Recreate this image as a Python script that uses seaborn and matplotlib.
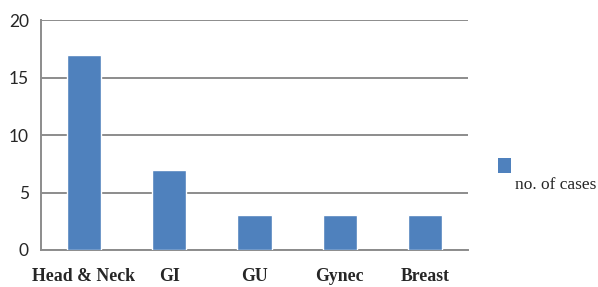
import matplotlib
matplotlib.use("Agg")
import matplotlib.pyplot as plt
import pandas as pd
import seaborn as sns
from matplotlib.patches import Patch

# data
sites = ["Head & Neck", "GI", "GU", "Gynec", "Breast"]
cases = [17, 7, 3, 3, 3]
series_name = "no. of cases"
y_ticks = [0, 5, 10, 15, 20]

df = pd.DataFrame({"site": sites, "cases": cases})

bar_color = "#4f81bd"
grid_color = "#8c8c8c"

sns.set_style("white")
fig = plt.figure(figsize=(5.98, 2.87), dpi=100)
ax = fig.add_axes([0.069, 0.129, 0.713, 0.801])

sns.barplot(data=df, x="site", y="cases", color=bar_color, width=0.4,
            saturation=1, ax=ax, zorder=3)

ax.set_ylim(0, 20)
ax.set_xlim(-0.5, len(sites) - 0.5)
ax.set_yticks(y_ticks)
ax.yaxis.grid(True, color=grid_color, linewidth=1.4, zorder=0)
ax.set_axisbelow(True)
ax.set_xlabel("")
ax.set_ylabel("")

for side in ["top", "right"]:
    ax.spines[side].set_visible(False)
for side in ["left", "bottom"]:
    ax.spines[side].set_color(grid_color)
    ax.spines[side].set_linewidth(1.4)

# Excel-style ticks: category boundaries get the tick marks
ax.set_xticks([i - 0.5 for i in range(len(sites) + 1)], minor=True)
ax.tick_params(axis="x", which="minor", length=6, width=1.4, color=grid_color, direction="out")
ax.tick_params(axis="x", which="major", length=0, pad=13)
ax.tick_params(axis="y", length=5, width=1.4, color=grid_color, pad=4)

for lab in ax.get_yticklabels():
    lab.set_fontfamily("Lato")
    lab.set_fontsize(12.5)
for lab in ax.get_xticklabels():
    lab.set_fontfamily("Liberation Serif")
    lab.set_fontweight("bold")
    lab.set_fontsize(12.8)

handle = Patch(facecolor=bar_color, edgecolor="none")
leg = ax.legend([handle], [series_name], loc="center left",
                bbox_to_anchor=(1.035, 0.285), frameon=False,
                handlelength=0.75, handleheight=1.0, handletextpad=0.2,
                prop={"family": "Liberation Serif", "size": 12.5})
# the square sits above the label in the reference
sq = leg.legend_handles[0]
sq.set_y(sq.get_y() + 13)

fig.savefig("out.png", dpi=100)
